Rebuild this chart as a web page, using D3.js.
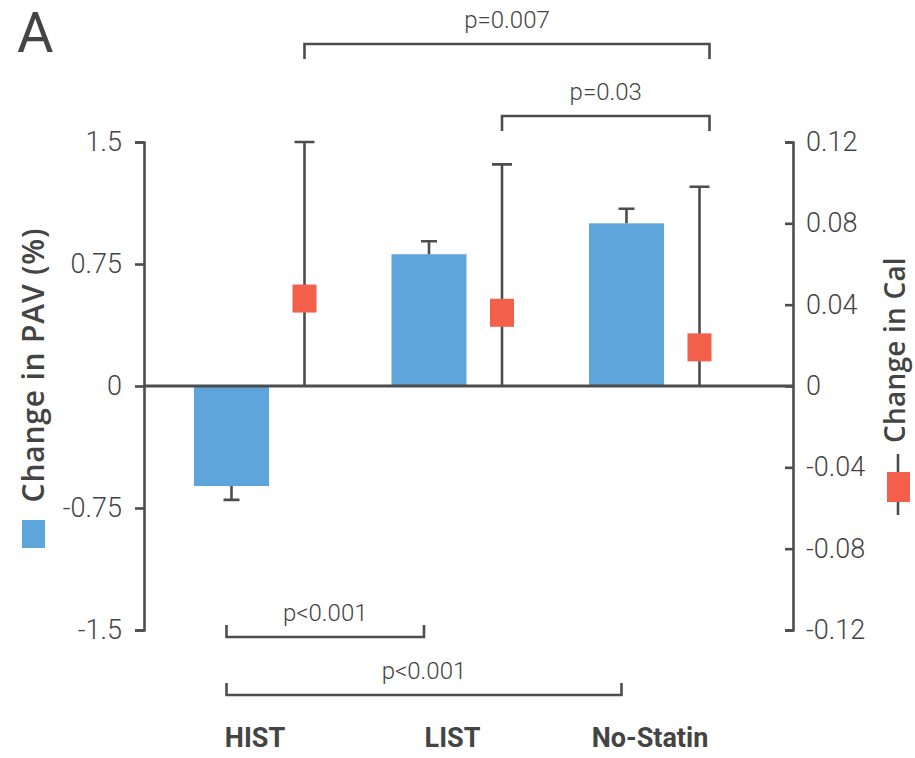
<!DOCTYPE html>
<html>
<head>
<meta charset="utf-8">
<script src="https://cdn.jsdelivr.net/npm/d3@7"></script>
<style>
  body { margin: 0; background: #fff; }
  svg text { font-family: Roboto, "Open Sans", sans-serif; fill: #444; }
</style>
</head>
<body>
<div id="chart"></div>
<script>
// values
var categories = ["HIST", "LIST", "No-Statin"];
var pavValues  = [-0.615, 0.81, 1.0];
var pavErrors  = [0.085, 0.08, 0.09];
var calValues  = [0.043, 0.036, 0.019];
var calErrors  = [0.077, 0.073, 0.079];

var pavTicks = [1.5, 0.75, 0, -0.75, -1.5];
var pavTickLabels = ["1.5", "0.75", "0", "-0.75", "-1.5"];
var calTicks = [0.12, 0.08, 0.04, 0, -0.04, -0.08, -0.12];
var calTickLabels = ["0.12", "0.08", "0.04", "0", "-0.04", "-0.08", "-0.12"];

// significance brackets: from / to category, which series, label
var brackets = [
  { from: "HIST", to: "No-Statin", series: "cal", label: "p=0.007", y: 44, dir: 1 },
  { from: "LIST", to: "No-Statin", series: "cal", label: "p=0.03",  y: 116, dir: 1 },
  { from: "HIST", to: "LIST",      series: "pav", label: "p<0.001", y: 637, dir: -1 },
  { from: "HIST", to: "No-Statin", series: "pav", label: "p<0.001", y: 695, dir: -1 }
];

function drawChart() {
  var blue = "#5DA5DA", red = "#F35F4B", ink = "#4d4d4d";

  var svgWidth = 915, svgHeight = 758;
  var svg = d3.select("#chart").append("svg").attr("width", svgWidth).attr("height", svgHeight);

  var plotLeft = 144, plotRight = 793, plotTop = 142, plotBottom = 630;

  var yPav = d3.scaleLinear().domain([-1.5, 1.5]).range([plotBottom, plotTop]);
  var yCal = d3.scaleLinear().domain([-0.12, 0.12]).range([plotBottom, plotTop]);
  var xGroup = d3.scalePoint().domain(categories).range([268, 663]);
  var barW = 75, off = 36.5;

  var data = categories.map(function(c, i) {
    return { cat: c, pav: pavValues[i], pavErr: pavErrors[i], cal: calValues[i], calErr: calErrors[i] };
  });

  // axes
  var leftAxis = d3.axisLeft(yPav).tickValues(pavTicks)
    .tickFormat(function(d, i) { return pavTickLabels[i]; })
    .tickSizeInner(9).tickSizeOuter(9).tickPadding(13);
  var rightAxis = d3.axisRight(yCal).tickValues(calTicks)
    .tickFormat(function(d, i) { return calTickLabels[i]; })
    .tickSizeInner(-8).tickSizeOuter(-8).tickPadding(13);

  var gl = svg.append("g").attr("transform", `translate(${plotLeft},0)`).call(leftAxis);
  var gr = svg.append("g").attr("transform", `translate(${plotRight},0)`).call(rightAxis);
  [gl, gr].forEach(function(g) {
    g.selectAll("path, line").attr("stroke", ink).attr("stroke-width", 2.6);
    g.selectAll("text").attr("fill", "#444")
      .style("font-family", "Roboto, sans-serif").style("font-size", "27px").style("font-weight", 300);
  });

  // bars
  var bars = svg.append("g");
  bars.selectAll("rect").data(data).enter().append("rect")
    .attr("x", d => xGroup(d.cat) - off - barW / 2)
    .attr("y", d => yPav(Math.max(0, d.pav)))
    .attr("width", barW)
    .attr("height", d => Math.abs(yPav(d.pav) - yPav(0)))
    .attr("fill", blue);

  // bar error bars (outward only)
  bars.selectAll(".ebar").data(data).enter().append("path").attr("class", "ebar")
    .attr("d", function(d) {
      var x = xGroup(d.cat) - off;
      var tip = d.pav >= 0 ? d.pav + d.pavErr : d.pav - d.pavErr;
      return `M${x},${yPav(d.pav)}V${yPav(tip)}M${x - 8},${yPav(tip)}H${x + 8}`;
    })
    .attr("stroke", ink).attr("stroke-width", 2.6).attr("fill", "none");

  // zero line
  svg.append("line").attr("x1", plotLeft).attr("x2", plotRight)
    .attr("y1", yPav(0)).attr("y2", yPav(0))
    .attr("stroke", ink).attr("stroke-width", 3);

  // cal markers with error line down to zero
  var cal = svg.append("g");
  cal.selectAll(".ecal").data(data).enter().append("path").attr("class", "ecal")
    .attr("d", function(d) {
      var x = xGroup(d.cat) + off;
      var tip = yCal(d.cal + d.calErr);
      return `M${x},${yCal(0)}V${tip}M${x - 10},${tip}H${x + 10}`;
    })
    .attr("stroke", ink).attr("stroke-width", 2.6).attr("fill", "none");
  cal.selectAll("rect").data(data).enter().append("rect")
    .attr("x", d => xGroup(d.cat) + off - 12)
    .attr("y", d => yCal(d.cal) - 14)
    .attr("width", 24).attr("height", 28)
    .attr("fill", red);

  // brackets
  function seriesX(cat, series) {
    return series === "cal" ? xGroup(cat) + off : xGroup(cat) - off - 5;
  }
  var br = svg.append("g");
  brackets.forEach(function(b) {
    var x1 = seriesX(b.from, b.series), x2 = seriesX(b.to, b.series);
    if (b.series === "cal") x2 += 10;
    var h = b.dir > 0 ? 15 : -12;
    br.append("path")
      .attr("d", `M${x1},${b.y + h}V${b.y}H${x2}V${b.y + h}`)
      .attr("stroke", ink).attr("stroke-width", 2.6).attr("fill", "none");
    br.append("text")
      .attr("x", (x1 + x2) / 2).attr("y", b.y - 16)
      .attr("text-anchor", "middle")
      .style("font-size", "24px").style("font-weight", 300)
      .text(b.label);
  });

  // category labels
  svg.append("g").selectAll("text").data(categories).enter().append("text")
    .attr("x", d => xGroup(d) - 13).attr("y", 747)
    .attr("text-anchor", "middle")
    .style("font-size", "27px").style("font-weight", 700)
    .text(d => d);

  // axis titles with legend keys
  svg.append("text").attr("transform", "translate(44,365) rotate(-90)")
    .attr("text-anchor", "middle")
    .style("font-family", "'Open Sans', sans-serif")
    .style("font-size", "30px").style("font-weight", 600).style("letter-spacing", "0.8px")
    .text("Change in PAV (%)");
  svg.append("rect").attr("x", 22).attr("y", 520).attr("width", 23).attr("height", 28).attr("fill", blue);

  svg.append("text").attr("transform", "translate(905,350) rotate(-90)")
    .attr("text-anchor", "middle")
    .style("font-family", "'Open Sans', sans-serif")
    .style("font-size", "28px").style("font-weight", 600).style("letter-spacing", "0.2px")
    .text("Change in Cal");
  svg.append("line").attr("x1", 898).attr("x2", 898).attr("y1", 454).attr("y2", 515)
    .attr("stroke", ink).attr("stroke-width", 2.6);
  svg.append("rect").attr("x", 887).attr("y", 472).attr("width", 23).attr("height", 30).attr("fill", red);

  // panel letter
  svg.append("text").attr("x", 17).attr("y", 52)
    .style("font-size", "56px").style("font-weight", 400)
    .text("A");
}

drawChart();
</script>
</body>
</html>
